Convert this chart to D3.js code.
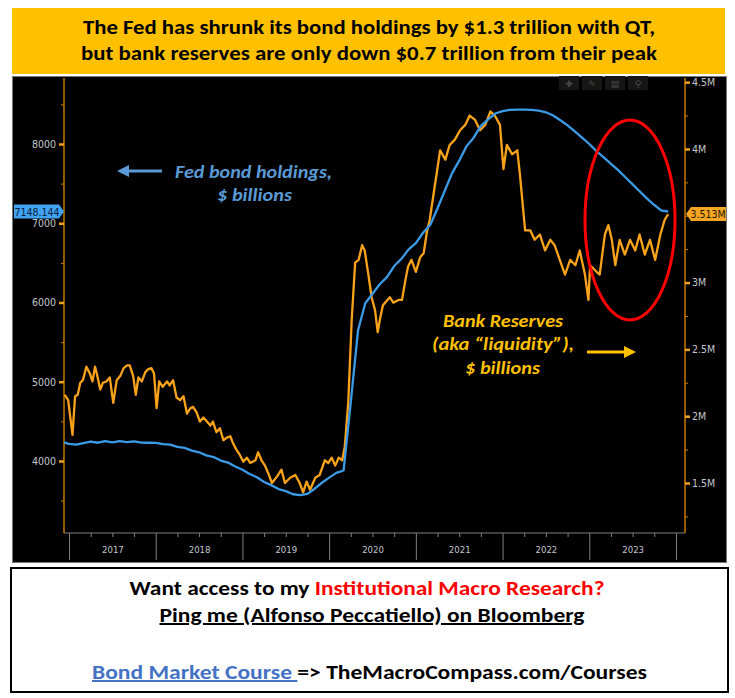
<!DOCTYPE html>
<html><head><meta charset="utf-8">
<script src="https://cdn.jsdelivr.net/npm/d3@7"></script>
<style>body{margin:0;background:#fff}svg{display:block}</style>
</head><body>
<script>
// ---- DATA ----
const fedMonths = ["2016-12","2017-01","2017-02","2017-03","2017-04","2017-05","2017-06","2017-07","2017-08","2017-09","2017-10","2017-11","2017-12",
"2018-01","2018-02","2018-03","2018-04","2018-05","2018-06","2018-07","2018-08","2018-09","2018-10","2018-11","2018-12",
"2019-01","2019-02","2019-03","2019-04","2019-05","2019-06","2019-07","2019-08","2019-09","2019-10","2019-11","2019-12",
"2020-01","2020-02","2020-03","2020-04","2020-05","2020-06","2020-07","2020-08","2020-09","2020-10","2020-11","2020-12",
"2021-01","2021-02","2021-03","2021-04","2021-05","2021-06","2021-07","2021-08","2021-09","2021-10","2021-11","2021-12",
"2022-01","2022-02","2022-03","2022-04","2022-05","2022-06","2022-07","2022-08","2022-09","2022-10","2022-11","2022-12",
"2023-01","2023-02","2023-03","2023-04","2023-05","2023-06","2023-07","2023-08","2023-09","2023-10","2023-11","2023-12"];
const fedValues = [4240,4215,4205,4225,4245,4230,4250,4235,4250,4238,4248,4232,4230,
4228,4212,4205,4178,4165,4130,4110,4070,4050,4005,3980,3930,
3890,3835,3795,3735,3695,3645,3620,3580,3570,3585,3650,3725,
3790,3850,3880,4750,5650,5990,6110,6230,6320,6460,6550,6670,
6750,6880,6980,7190,7410,7630,7790,7970,8080,8230,8310,8385,
8415,8430,8435,8435,8430,8420,8400,8360,8300,8235,8160,8080,
8000,7910,7830,7750,7670,7580,7490,7400,7310,7230,7160,7148.144];

const resYears = [2016.95,2016.99,2017.04,2017.07,2017.10,2017.13,2017.16,2017.20,2017.24,2017.27,2017.30,2017.32,2017.36,2017.39,2017.43,2017.47,2017.51,2017.55,2017.59,2017.63,2017.67,2017.70,2017.74,2017.77,2017.80,2017.84,2017.88,2017.91,2017.95,2017.98,
2018.01,2018.04,2018.08,2018.13,2018.16,2018.20,2018.24,2018.28,2018.32,2018.36,2018.40,2018.43,2018.47,2018.51,2018.55,2018.59,2018.63,2018.66,2018.70,2018.74,2018.78,2018.82,2018.86,2018.89,2018.93,2018.97,
2019.01,2019.05,2019.09,2019.15,2019.18,2019.22,2019.26,2019.30,2019.34,2019.40,2019.45,2019.49,2019.55,2019.61,2019.66,2019.70,2019.74,2019.78,2019.84,2019.89,2019.95,2019.99,
2020.03,2020.07,2020.11,2020.15,2020.18,2020.22,2020.26,2020.30,2020.34,2020.38,2020.41,2020.45,2020.49,2020.53,2020.56,2020.59,2020.62,2020.66,2020.70,2020.74,2020.80,2020.84,2020.88,2020.91,2020.95,
2021.00,2021.05,2021.09,2021.13,2021.16,2021.28,2021.34,2021.39,2021.45,2021.51,2021.57,2021.62,2021.68,2021.74,2021.80,2021.86,2021.91,2021.97,
2022.01,2022.05,2022.11,2022.17,2022.20,2022.26,2022.32,2022.37,2022.43,2022.49,2022.55,2022.60,2022.66,2022.72,2022.78,2022.84,2022.89,2022.95,2022.99,
2023.01,2023.07,2023.12,2023.18,2023.22,2023.26,2023.30,2023.35,2023.41,2023.47,2023.53,2023.58,2023.64,2023.70,2023.76,2023.82,2023.87,2023.91];
const resValues = [2.16,2.12,1.86,2.15,2.16,2.25,2.27,2.37,2.32,2.26,2.37,2.32,2.20,2.25,2.26,2.29,2.10,2.27,2.30,2.36,2.38,2.38,2.30,2.16,2.29,2.26,2.33,2.35,2.36,2.32,
2.06,2.26,2.22,2.26,2.23,2.27,2.14,2.12,2.15,2.02,2.06,2.07,2.03,1.96,1.99,1.96,1.93,1.96,1.88,1.91,1.82,1.84,1.85,1.80,1.75,1.71,
1.66,1.69,1.65,1.67,1.73,1.67,1.63,1.57,1.50,1.55,1.60,1.50,1.54,1.56,1.50,1.43,1.51,1.45,1.54,1.56,1.67,1.65,
1.69,1.63,1.69,1.67,1.77,2.10,2.72,3.15,3.17,3.28,3.24,3.07,2.89,2.79,2.63,2.74,2.83,2.86,2.89,2.85,2.87,2.87,3.02,3.12,3.17,
3.08,3.19,3.22,3.39,3.47,3.99,3.92,4.03,4.07,4.14,4.18,4.25,4.22,4.14,4.18,4.28,4.25,4.18,
3.85,4.03,3.96,3.99,3.81,3.39,3.39,3.32,3.36,3.24,3.32,3.28,3.17,3.06,3.17,3.13,3.24,3.06,2.87,
3.13,3.09,3.06,3.36,3.43,3.32,3.13,3.32,3.21,3.32,3.24,3.36,3.21,3.32,3.17,3.36,3.47,3.513];

const yearLabels = ["2017","2018","2019","2020","2021","2022","2023"];
const yearBounds = [2017,2018,2019,2020,2021,2022,2023,2024];
const leftMajor = [4000,5000,6000,7000,8000];
const leftMinor = [3500,4500,5500,6500,7500,8500];
const rightMajor = [1.5,2,2.5,3,4,4.5];
const rightMinor = [1.25,1.75,2.25,2.75,3.25,3.5,3.75,4.25];
const lastFed = 7148.144, lastRes = 3.513;

// ---- DRAW ----
const W=735,H=698;
const svg=d3.select("body").append("svg").attr("width",W).attr("height",H);
svg.append("rect").attr("width",W).attr("height",H).attr("fill","#fff");
const FONT="Carlito, 'Liberation Sans Narrow', 'Open Sans', 'Liberation Sans', sans-serif";
const NARROW="'Liberation Sans Narrow','DejaVu Sans Condensed',sans-serif";

// title
svg.append("rect").attr("x",12).attr("y",8).attr("width",713).attr("height",66).attr("fill","#FFC000");
const titleLines=["The Fed has shrunk its bond holdings by $1.3 trillion with QT,","but bank reserves are only down $0.7 trillion from their peak"];
const titleW=[572,576];
titleLines.forEach((t,i)=>svg.append("text").attr("x",369).attr("y",34+i*26).attr("text-anchor","middle")
  .attr("font-family",FONT).attr("font-weight","bold").attr("font-size",20).attr("fill","#000")
  .attr("textLength",titleW[i]).attr("lengthAdjust","spacingAndGlyphs").text(t));

// chart background
svg.append("rect").attr("x",12.5).attr("y",76.5).attr("width",714).attr("height",486).attr("fill","#000").attr("stroke","#7a7a7a");

const x=d3.scaleLinear().domain([2016.942,2024.104]).range([64,685]);
const yL=d3.scaleLinear().domain([3091,8833]).range([533,78]);
const yR=d3.scaleLinear().domain([1.126,4.531]).range([533,78]);
const AX="#c77a00", TXT="#c3c7cc";

// toolbar
const tb=svg.append("g");
[569,592,615,638].forEach((cx,i)=>{
  tb.append("rect").attr("x",cx-10).attr("y",76).attr("width",20).attr("height",14).attr("fill","#161616");
  tb.append("text").attr("x",cx).attr("y",87).attr("text-anchor","middle").attr("font-family","DejaVu Sans").attr("font-size",9)
    .attr("fill","#4a4a4a").text(["✚","✎","▤","⚲"][i]);
});

// x axis
const gx=svg.append("g").attr("transform","translate(0,533)");
gx.append("line").attr("x1",64).attr("x2",685).attr("stroke","#808080");
const quarters=[];
yearBounds.slice(0,-1).forEach(y=>[0.25,0.5,0.75].forEach(q=>quarters.push(y+q)));
gx.append("g").call(d3.axisBottom(x).tickValues(quarters).tickSize(4).tickFormat("")).call(g=>{g.select(".domain").remove();g.selectAll("line").attr("stroke","#808080");});
gx.append("g").call(d3.axisBottom(x).tickValues(yearBounds).tickSize(27).tickFormat("")).call(g=>{g.select(".domain").remove();g.selectAll("line").attr("stroke","#808080");});
gx.append("g").call(d3.axisBottom(x).tickValues(yearLabels.map(d=>+d+0.5)).tickSize(0).tickPadding(13).tickFormat(d=>String(Math.floor(d))))
  .call(g=>{g.select(".domain").remove();g.selectAll("text").attr("fill",TXT).attr("font-size",9.5).attr("font-family",NARROW);});

// left axis
const gl=svg.append("g").attr("transform","translate(64,0)");
gl.append("line").attr("y1",78).attr("y2",533).attr("stroke",AX).attr("stroke-width",1.5);
gl.append("g").call(d3.axisLeft(yL).tickValues(leftMinor).tickSize(3).tickFormat("")).call(g=>{g.select(".domain").remove();g.selectAll("line").attr("stroke",AX);});
gl.append("g").call(d3.axisLeft(yL).tickValues(leftMajor).tickSize(5).tickPadding(3).tickFormat(d=>String(d)))
  .call(g=>{g.select(".domain").remove();g.selectAll("line").attr("stroke","#f0a020").attr("stroke-width",2.5);
    g.selectAll("text").attr("fill",TXT).attr("font-size",10.5).attr("font-family",NARROW);});

// right axis
const gr=svg.append("g").attr("transform","translate(685,0)");
gr.append("line").attr("y1",78).attr("y2",533).attr("stroke",AX).attr("stroke-width",1.5);
gr.append("g").call(d3.axisRight(yR).tickValues(rightMinor).tickSize(3).tickFormat("")).call(g=>{g.select(".domain").remove();g.selectAll("line").attr("stroke",AX);});
gr.append("g").call(d3.axisRight(yR).tickValues(rightMajor).tickSize(5).tickPadding(2).tickFormat(d=>d+"M"))
  .call(g=>{g.select(".domain").remove();g.selectAll("line").attr("stroke","#f0a020").attr("stroke-width",2.5);
    g.selectAll("text").attr("fill",TXT).attr("font-size",10.5).attr("font-family",NARROW);});

// lines
svg.append("clipPath").attr("id","clip").append("rect").attr("x",64).attr("y",78).attr("width",621).attr("height",455);
const plot=svg.append("g").attr("clip-path","url(#clip)");
const fedData=fedMonths.map((m,i)=>{const [yy,mm]=m.split("-").map(Number);return {t:yy+(mm-1)/12,v:fedValues[i]};});
fedData[fedData.length-1].t=resYears[resYears.length-1];
const resData=resYears.map((t,i)=>({t,v:resValues[i]}));
plot.append("path").datum(resData).attr("fill","none").attr("stroke","#f9a31b").attr("stroke-width",2.3).attr("stroke-linejoin","round")
  .attr("d",d3.line().x(d=>x(d.t)).y(d=>yR(d.v)));
plot.append("path").datum(fedData).attr("fill","none").attr("stroke","#3b9be6").attr("stroke-width",2.3).attr("stroke-linejoin","round")
  .attr("d",d3.line().x(d=>x(d.t)).y(d=>yL(d.v)));

// value labels
const yb=yL(lastFed);
svg.append("path").attr("d",`M14,${yb-7}H59L64,${yb}L59,${yb+7}H14Z`).attr("fill","#3fa2f2");
svg.append("text").attr("x",37).attr("y",yb+4).attr("text-anchor","middle").attr("font-size",10.5).attr("fill","#0b2340")
  .attr("font-family",NARROW).text(lastFed.toFixed(3));
const yo=yR(lastRes);
svg.append("path").attr("d",`M686,${yo}L691,${yo-7}H726V${yo+7}H691Z`).attr("fill","#f5a623");
svg.append("text").attr("x",708).attr("y",yo+4).attr("text-anchor","middle").attr("font-size",10.5).attr("fill","#2a1a00")
  .attr("font-family",NARROW).text(lastRes.toFixed(3)+"M");

// red ellipse
svg.append("ellipse").attr("cx",630).attr("cy",220).attr("rx",45).attr("ry",100).attr("fill","none").attr("stroke","#ff0000").attr("stroke-width",3);

// annotations
const BLUE="#5b9bd5", YEL="#FFC000";
svg.append("line").attr("x1",126).attr("x2",162).attr("y1",171).attr("y2",171).attr("stroke",BLUE).attr("stroke-width",3);
svg.append("path").attr("d","M117,171L129,165L129,177Z").attr("fill",BLUE);
function ann(t,xx,yy,w,col){svg.append("text").attr("x",xx).attr("y",yy).attr("font-family",FONT)
  .attr("font-weight","bold").attr("font-style","italic").attr("font-size",18).attr("fill",col).attr("textLength",w).attr("lengthAdjust","spacingAndGlyphs").text(t);}
ann("Fed bond holdings,",175,178,157,BLUE);
ann("$ billions",217,201,75,BLUE);
ann("Bank Reserves",443,327,120,YEL);
ann("(aka \u201cliquidity\u201d),",432,350,142,YEL);
ann("$ billions",465,374,75,YEL);
svg.append("line").attr("x1",587).attr("x2",626).attr("y1",352).attr("y2",352).attr("stroke",YEL).attr("stroke-width",3);
svg.append("path").attr("d","M636,352L624,346L624,358Z").attr("fill",YEL);

// bottom box
svg.append("rect").attr("x",11).attr("y",568).attr("width",717).attr("height",124).attr("fill","#fff").attr("stroke","#000").attr("stroke-width",2);
const t1=svg.append("text").attr("x",367).attr("y",595).attr("text-anchor","middle").attr("font-family",FONT).attr("font-size",20).attr("font-weight","600")
  .attr("textLength",475).attr("lengthAdjust","spacingAndGlyphs");
t1.append("tspan").attr("fill","#000").text("Want access to my ");
t1.append("tspan").attr("fill","#ff0000").text("Institutional Macro Research?");
svg.append("text").attr("x",372).attr("y",622).attr("text-anchor","middle").attr("font-family",FONT).attr("font-size",20).attr("font-weight","600")
  .attr("textLength",425).attr("lengthAdjust","spacingAndGlyphs").attr("text-decoration","underline").attr("fill","#000").text("Ping me (Alfonso Peccatiello) on Bloomberg");
const t3=svg.append("text").attr("x",92).attr("y",679).attr("font-family",FONT).attr("font-size",20).attr("font-weight","600")
  .attr("textLength",555).attr("lengthAdjust","spacingAndGlyphs");
t3.append("tspan").attr("fill","#4472c4").attr("text-decoration","underline").text("Bond Market Course ");
t3.append("tspan").attr("fill","#000").text("=> TheMacroCompass.com/Courses");
</script>
</body></html>
